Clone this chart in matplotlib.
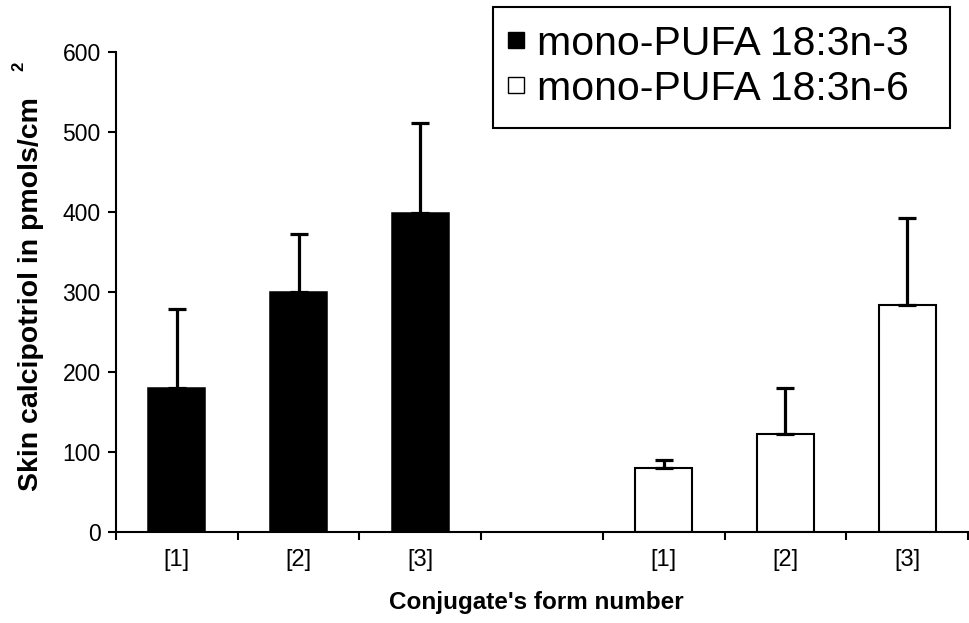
import numpy as np
import matplotlib
matplotlib.use("Agg")
from matplotlib import pyplot as plt
from matplotlib.patches import Rectangle

plt.rcParams["font.family"] = ["Liberation Sans", "DejaVu Sans"]

forms = ["[1]", "[2]", "[3]"]
n3_means = [180, 300, 398]
n3_errs = [98, 72, 113]
n6_means = [80, 122, 284]
n6_errs = [10, 58, 108]
series_names = ["mono-PUFA 18:3n-3", "mono-PUFA 18:3n-6"]
series_colors = ["black", "white"]

W, H = 969, 623
fig = plt.figure(figsize=(W / 100, H / 100), dpi=100)
ax = fig.add_axes([116 / W, 1 - 532 / H, (968 - 116) / W, (532 - 51.7) / H])


def fig_xy(px, py):
    # pixel position (from top-left) -> figure fraction
    return px / W, 1 - py / H


# three slots per series, one empty slot between the groups
x3 = np.arange(len(forms))
x6 = x3 + len(forms) + 1
bar_w = 0.47
err_kw = dict(elinewidth=2.3, capsize=6.5, capthick=2.3, ecolor="black")

ax.bar(x3, n3_means, bar_w, color=series_colors[0], edgecolor="black", linewidth=1.1,
       yerr=[np.zeros(3), n3_errs], error_kw=err_kw, zorder=2)
ax.bar(x6, n6_means, bar_w, color=series_colors[1], edgecolor="black", linewidth=1.5,
       yerr=[np.zeros(3), n6_errs], error_kw=err_kw, zorder=2)

n_slots = 2 * len(forms) + 1
ax.set_xlim(-0.5, n_slots - 0.5)
ax.set_ylim(0, 600)
ax.set_yticks(np.arange(0, 601, 100))

ax.set_xticks(np.arange(-0.5, n_slots, 1.0))
ax.set_xticklabels([])
ax.set_xticks(np.concatenate([x3, x6]), minor=True)
ax.set_xticklabels(forms + forms, minor=True)
ax.tick_params(axis="x", which="minor", length=0, pad=12, labelsize=17)
ax.tick_params(axis="x", which="major", length=6, width=1.5, direction="out")
ax.tick_params(axis="y", length=6, width=1.5, direction="out", labelsize=16.5, pad=5)

for side in ("top", "right"):
    ax.spines[side].set_visible(False)
for side in ("left", "bottom"):
    ax.spines[side].set_linewidth(1.5)

fig.text(*fig_xy(38, 294), "Skin calcipotriol in pmols/cm", rotation=90,
         rotation_mode="anchor", fontsize=20.5, fontweight="bold",
         ha="center", va="baseline")
fig.text(*fig_xy(19, 66), "2", rotation=90, fontsize=12,
         fontweight="bold", ha="center", va="center")
fig.text(*fig_xy(536, 603), "Conjugate's form number", fontsize=17.5,
         fontweight="bold", ha="center", va="center")

# legend box drawn like the spreadsheet one
bx0, by0 = fig_xy(493, 128)
bx1, by1 = fig_xy(950, 7)
fig.patches.append(Rectangle((bx0, by0), bx1 - bx0, by1 - by0, transform=fig.transFigure,
                             facecolor="white", edgecolor="black", linewidth=1.5))
row_base = [55, 100]
for name, color, base in zip(series_names, series_colors, row_base):
    sx, sy = fig_xy(508, base - 7)
    sw, sh = 16 / W, 16 / H
    fig.patches.append(Rectangle((sx, sy), sw, sh, transform=fig.transFigure,
                                 facecolor=color, edgecolor="black", linewidth=1))
    fig.text(*fig_xy(537, base), name, fontsize=29.5, ha="left", va="baseline")

fig.savefig("out.png", dpi=100)
